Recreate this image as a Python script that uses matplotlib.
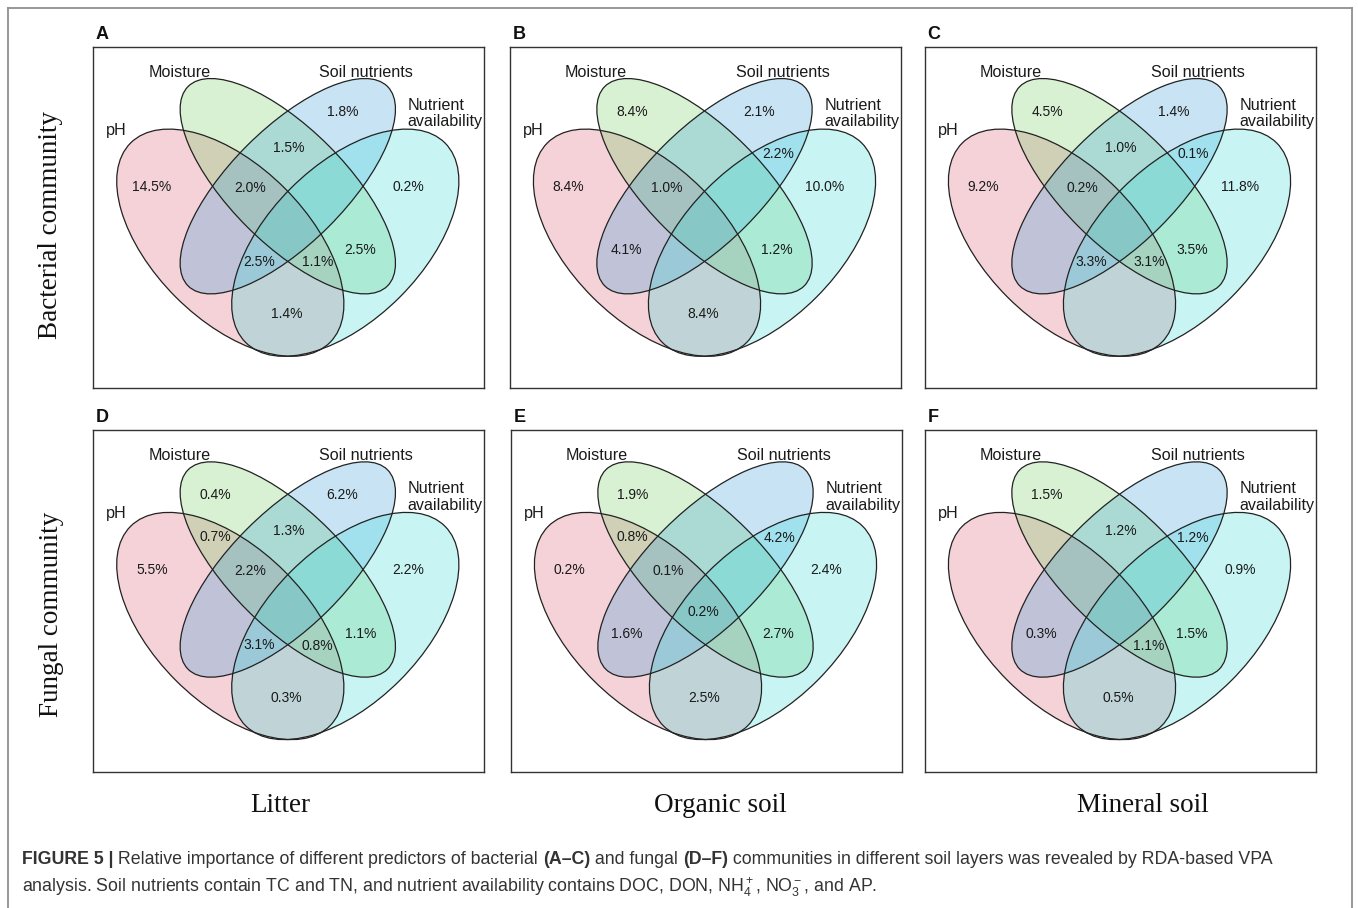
import matplotlib
matplotlib.use("Agg")
import matplotlib.pyplot as plt
from matplotlib.patches import Ellipse
from matplotlib.lines import Line2D

plt.rcParams['font.family'] = ['Liberation Sans', 'DejaVu Sans']
plt.rcParams['mathtext.fontset'] = 'custom'
plt.rcParams['mathtext.rm'] = 'Liberation Sans'
plt.rcParams['mathtext.it'] = 'Liberation Sans:italic'
plt.rcParams['mathtext.bf'] = 'Liberation Sans:bold'

# ---------------- data ----------------
set_names = ['pH', 'Moisture', 'Soil nutrients', 'Nutrient\navailability']
regions = ['pH', 'M', 'S', 'N', 'pH&M', 'M&S', 'S&N', 'pH&N',
           'pH&M&S', 'M&N', 'pH&S', 'pH&S&N', 'pH&M&N', 'pH&M&S&N']
values_A = [14.5, None, 1.8, 0.2, None, 1.5, None, 1.4, 2.0, 2.5, None, 2.5, 1.1, None]
values_B = [8.4, 8.4, 2.1, 10.0, None, None, 2.2, 8.4, 1.0, 1.2, 4.1, None, None, None]
values_C = [9.2, 4.5, 1.4, 11.8, None, 1.0, 0.1, None, 0.2, 3.5, None, 3.3, 3.1, None]
values_D = [5.5, 0.4, 6.2, 2.2, 0.7, 1.3, None, 0.3, 2.2, 1.1, None, 3.1, 0.8, None]
values_E = [0.2, 1.9, None, 2.4, 0.8, None, 4.2, 2.5, 0.1, 2.7, 1.6, None, None, 0.2]
values_F = [None, 1.5, None, 0.9, None, 1.2, 1.2, 0.5, None, 1.5, 0.3, None, 1.1, None]
panel_letters = ['A', 'B', 'C', 'D', 'E', 'F']
panel_values = [values_A, values_B, values_C, values_D, values_E, values_F]
row_labels = ['Bacterial community', 'Fungal community']
col_labels = ['Litter', 'Organic soil', 'Mineral soil']

# ---------------- layout (pixels) ----------------
W, H = 1358, 908
PW, PH = 391, 341.5
panel_origin = [(93.3, 46.7), (510, 46.7), (925, 46.7),
                (93.3, 430), (511, 430), (925, 430)]

# ellipse geometry inside a panel (panel-pixel coords, y down)
ell_center = [(137, 196), (194.5, 139.5), (194.5, 139.5), (252, 196)]
ell_size = [(282, 154), (282, 115), (282, 115), (282, 154)]
ell_angle = [45, 45, -45, -45]
ell_color = ['#DB5E74', '#70CD5E', '#3B9FDB', '#3BDBDB']
ell_alpha = 0.28

region_pos = {
    'pH': (58.5, 140), 'M': (122, 65), 'S': (249, 65), 'N': (315, 140),
    'pH&M': (121.7, 107), 'M&S': (195.5, 101), 'S&N': (268, 107.5),
    'pH&N': (193, 267.5), 'pH&M&S': (157, 141), 'M&N': (267, 203.5),
    'pH&S': (116, 203.5), 'pH&S&N': (166, 215), 'pH&M&N': (224, 215.5),
    'pH&M&S&N': (192, 182),
}
set_label_pos = [(23, 83.5, 'center'), (86, 26, 'center'),
                 (273, 25.3, 'center'), (314.5, 67, 'left')]

fig = plt.figure(figsize=(W / 100, H / 100), dpi=100)
fig.patch.set_facecolor('white')

def fx(x):
    return x / W

def fy(y):
    return 1 - y / H

# outer frame
frame_kw = dict(color='#8f8f8f', lw=1.3, transform=fig.transFigure)
fig.add_artist(Line2D([fx(8), fx(8)], [fy(8), fy(908)], **frame_kw))
fig.add_artist(Line2D([fx(8), fx(1352)], [fy(8), fy(8)], **frame_kw))
fig.add_artist(Line2D([fx(1352), fx(1352)], [fy(8), fy(908)], **frame_kw))

for letter, vals, (ox, oy) in zip(panel_letters, panel_values, panel_origin):
    ax = fig.add_axes([fx(ox), fy(oy + PH), PW / W, PH / H])
    ax.set_xlim(0, PW)
    ax.set_ylim(PH, 0)
    ax.set_xticks([])
    ax.set_yticks([])
    for sp in ax.spines.values():
        sp.set_color('#333333')
        sp.set_linewidth(1.0)
    for c, s, a, col in zip(ell_center, ell_size, ell_angle, ell_color):
        ax.add_patch(Ellipse(c, s[0], s[1], angle=a, facecolor=col,
                             edgecolor='none', alpha=ell_alpha, zorder=1))
    for c, s, a in zip(ell_center, ell_size, ell_angle):
        ax.add_patch(Ellipse(c, s[0], s[1], angle=a, fill=False,
                             edgecolor='#222222', lw=0.9, zorder=2))
    for reg, v in zip(regions, vals):
        if v is None:
            continue
        px, py = region_pos[reg]
        ax.text(px, py, f'{v:.1f}%', ha='center', va='center',
                fontsize=10, color='#1a1a1a', zorder=3)
    for name, (lx, ly, ha) in zip(set_names, set_label_pos):
        ax.text(lx, ly, name, ha=ha, va='center', fontsize=11.6,
                color='#1a1a1a', zorder=3, linespacing=1.12)
    ax.text(2.7, -12, letter, ha='left', va='center', fontsize=13,
            fontweight='bold', color='#111111', clip_on=False)

# row and column labels
serif = ['Liberation Serif', 'DejaVu Serif']
fig.text(fx(51), fy(225), row_labels[0], rotation=90, ha='center', va='center',
         fontsize=19.5, family=serif, color='#111111')
fig.text(fx(52), fy(614), row_labels[1], rotation=90, ha='center', va='center',
         fontsize=19.5, family=serif, color='#111111')
for cx, lab in zip([280, 720, 1143], col_labels):
    fig.text(fx(cx), fy(805), lab, ha='center', va='center', fontsize=19.5,
             family=serif, color='#111111')

# caption
renderer = fig.canvas.get_renderer()
line1 = [('FIGURE 5 |', 'bold'),
         (' Relative importance of different predictors of bacterial ', 'normal'),
         ('(A\u2013C)', 'bold'), (' and fungal ', 'normal'), ('(D\u2013F)', 'bold'),
         (' communities in different soil layers was revealed by RDA-based VPA', 'normal')]
x = 22
for s, wgt in line1:
    t = fig.text(fx(x), fy(860), s, ha='left', va='center', fontsize=12.8,
                 fontweight=wgt, color='#333333')
    x += t.get_window_extent(renderer).width
fig.text(fx(22), fy(887),
         'analysis. Soil nutrients contain TC and TN, and nutrient availability contains DOC, DON, '
         'NH$_4^+$, NO$_3^-$, and AP.',
         ha='left', va='center', fontsize=12.8, color='#333333')

fig.savefig('out.png', dpi=100, facecolor='white')
